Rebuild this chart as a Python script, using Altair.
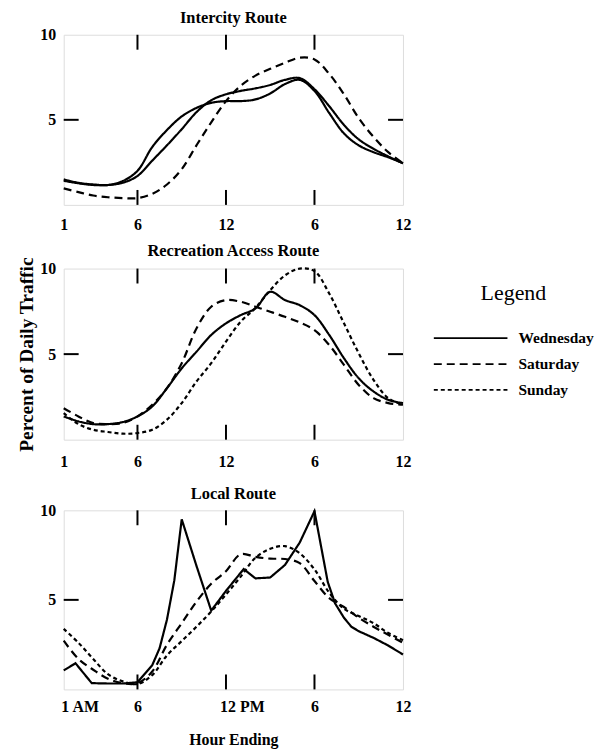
import altair as alt
import pandas as pd

# ---------------- data ----------------
hours = list(range(1, 25))
days = ["Wednesday", "Saturday", "Sunday"]

intercity_wed = [1.5, 1.3, 1.2, 1.17, 1.4, 2.0, 3.4, 4.4, 5.2, 5.7, 6.0, 6.1,
                 6.1, 6.2, 6.55, 7.1, 7.35, 6.7, 5.4, 4.2, 3.5, 3.1, 2.8, 2.45]
intercity_sat = [0.97, 0.75, 0.55, 0.45, 0.4, 0.4, 0.65, 1.2, 2.1, 3.5, 4.85, 6.1,
                 7.0, 7.6, 8.0, 8.35, 8.65, 8.55, 7.7, 6.5, 5.1, 4.0, 3.1, 2.45]
intercity_sun = [1.42, 1.27, 1.17, 1.17, 1.3, 1.7, 2.6, 3.5, 4.45, 5.45, 6.15, 6.5,
                 6.7, 6.85, 7.05, 7.35, 7.45, 6.8, 5.8, 4.7, 3.85, 3.3, 2.85, 2.45]

recreation_wed = [1.36, 1.07, 0.91, 0.91, 1.03, 1.36, 1.94, 3.01, 4.17, 5.14, 6.12, 6.8,
                  7.28, 7.67, 8.64, 8.16, 7.86, 7.28, 6.12, 4.76, 3.59, 2.82, 2.33, 2.14]
recreation_sat = [1.84, 1.36, 0.97, 0.91, 0.97, 1.36, 2.04, 3.01, 4.47, 6.5, 7.77, 8.16,
                  8.06, 7.77, 7.48, 7.18, 6.85, 6.4, 5.53, 4.37, 3.2, 2.43, 2.14, 2.04]
recreation_sun = [1.55, 0.91, 0.58, 0.45, 0.35, 0.39, 0.58, 1.17, 2.14, 3.4, 4.47, 5.73,
                  6.9, 7.7, 8.74, 9.6, 10.0, 9.85, 8.54, 6.8, 5.05, 3.5, 2.43, 2.04]

# local Wednesday is read at the sharp corners as well as on the hour
local_wed_hours = [1, 1.8, 2.9, 4, 5, 6, 7, 7.5, 8, 8.5, 9, 10, 11, 12, 13.2, 14, 15,
                   16, 17, 18, 18.9, 19.4, 20, 20.5, 21, 22, 23, 24]
local_wed = [1.06, 1.46, 0.35, 0.33, 0.33, 0.4, 1.35, 2.3, 3.9, 6.1, 9.5, 6.9, 4.4, 5.5,
             6.72, 6.2, 6.25, 6.95, 8.2, 9.95, 6.0, 4.8, 4.0, 3.5, 3.25, 2.88, 2.45, 1.95]
local_sat = [2.72, 1.7, 1.1, 0.6, 0.35, 0.35, 1.0, 2.5, 3.7, 4.9, 5.9, 6.6,
             7.55, 7.4, 7.3, 7.28, 7.05, 6.05, 5.1, 4.6, 4.0, 3.5, 3.05, 2.6]
local_sun = [3.38, 2.6, 1.7, 0.85, 0.45, 0.3, 0.8, 1.9, 2.7, 3.5, 4.35, 5.3,
             6.3, 7.35, 7.85, 8.0, 7.6, 6.7, 5.4, 4.5, 4.1, 3.7, 3.15, 2.75]

x_tick_values = [1, 6, 12, 18, 24]
x_labels_plain = ["1", "6", "12", "6", "12"]
x_labels_local = ["1 AM", "6", "12 PM", "6", "12"]
y_tick_values = [5, 10]
inner_x_ticks = [6, 12, 18]
inner_y_ticks = [5]

# ---------------- style ----------------
FONT = "Liberation Serif"
W = 341
TICK = 15
SOLID = [1, 0]
LONG = [8, 5]
SHORT = [4, 3]


def long_df(series, series_hours):
    rows = []
    for day, vals, hrs in zip(days, series, series_hours):
        for h, v in zip(hrs, vals):
            rows.append({"hour": h, "pct": v, "day": day})
    return pd.DataFrame(rows)


def label_expr(labels):
    parts = [f"datum.value == {v} ? '{t}'" for v, t in zip(x_tick_values, labels)]
    return " : ".join(parts) + " : ''"


def panel(title, series, labels, height, dash_range, series_hours=None, linear_days=(),
          legend=None, y_title=None, x_title=None, local=False, title_offset=4,
          label_pad=12, x_title_size=16, x_title_pad=19):
    if series_hours is None:
        series_hours = [hours] * 3
    df = long_df(series, series_hours)
    x_axis_kw = dict(values=x_tick_values, labelExpr=label_expr(labels), grid=False,
                     ticks=False, domain=False, labelFont=FONT, labelFontSize=16,
                     labelFontWeight="bold", labelColor="black", labelPadding=label_pad,
                     labelFlush=False, title=x_title, titleFont=FONT,
                     titleFontSize=x_title_size, titleFontWeight="bold",
                     titleColor="black", titlePadding=x_title_pad)
    if local:
        x_axis_kw["labelOffset"] = {"condition": {"test": "datum.value == 1 || datum.value == 12",
                                                  "value": 16}, "value": 0}
    x_axis = alt.Axis(**x_axis_kw)
    y_axis = alt.Axis(values=y_tick_values, grid=False, ticks=False, domain=False,
                      labelFont=FONT, labelFontSize=16, labelFontWeight="bold",
                      labelColor="black", labelPadding=8, labelFlush=False,
                      title=y_title, titleFont=FONT, titleFontSize=19.5,
                      titleFontWeight="bold", titleColor="black", titlePadding=3)
    xs = alt.Scale(domain=[1, 24], nice=False, zero=False)
    ys = alt.Scale(domain=[0, 10], nice=False)
    dash = alt.StrokeDash("day:N", scale=alt.Scale(domain=days, range=dash_range),
                          legend=legend)
    X = alt.X("hour:Q", scale=xs, axis=x_axis)
    Y = alt.Y("pct:Q", scale=ys, axis=y_axis)

    base = alt.Chart(df).encode(x=X, y=Y, strokeDash=dash, detail="day:N")
    smooth = base.transform_filter(
        alt.FieldOneOfPredicate(field="day", oneOf=[d for d in days if d not in linear_days])
    ).mark_line(interpolate="catmull-rom", color="black", strokeWidth=2.2)
    layers = [smooth]
    if linear_days:
        lin = base.transform_filter(
            alt.FieldOneOfPredicate(field="day", oneOf=list(linear_days))
        ).mark_line(interpolate="linear", color="black", strokeWidth=2.2)
        layers.append(lin)

    xt = alt.Chart(pd.DataFrame({"hour": inner_x_ticks}))
    yt = alt.Chart(pd.DataFrame({"pct": inner_y_ticks}))
    rule = dict(color="black", strokeWidth=2)
    layers += [
        xt.mark_rule(**rule).encode(x=X, y=alt.value(0), y2=alt.value(TICK)),
        xt.mark_rule(**rule).encode(x=X, y=alt.value(height), y2=alt.value(height - TICK)),
        yt.mark_rule(**rule).encode(y=Y, x=alt.value(0), x2=alt.value(TICK)),
        yt.mark_rule(**rule).encode(y=Y, x=alt.value(W), x2=alt.value(W - TICK)),
    ]
    return alt.layer(*layers).properties(
        width=W, height=height,
        title=alt.TitleParams(title, font=FONT, fontSize=16.5, fontWeight="bold",
                              color="black", offset=title_offset),
    )


legend = alt.Legend(
    title="Legend", orient="none", legendX=371, legendY=15, padding=0,
    symbolType="stroke", symbolSize=5476, symbolStrokeWidth=1.8,
    symbolStrokeColor="black", clipHeight=24,
    labelFont=FONT, labelFontSize=15.5, labelFontWeight="bold", labelColor="black",
    labelOffset=10, titleFont=FONT, titleFontSize=22, titleFontWeight="normal",
    titleColor="black", titleAnchor="middle", titlePadding=21,
)

p1 = panel("Intercity Route", [intercity_wed, intercity_sat, intercity_sun],
           x_labels_plain, 171, [SOLID, LONG, SOLID], title_offset=0)
p2 = panel("Recreation Access Route", [recreation_wed, recreation_sat, recreation_sun],
           x_labels_plain, 172, [SOLID, LONG, SHORT], legend=legend,
           y_title="Percent of Daily Traffic", title_offset=-3, label_pad=14,
           x_title=" ", x_title_size=6, x_title_pad=0)
p3 = panel("Local Route", [local_wed, local_sat, local_sun],
           x_labels_local, 180, [SOLID, LONG, SHORT],
           series_hours=[local_wed_hours, hours, hours], linear_days=("Wednesday",),
           x_title="Hour Ending", local=True, label_pad=9, title_offset=0,
           x_title_pad=17)

chart = alt.vconcat(p1, p2, p3, spacing=9).resolve_scale(
    strokeDash="independent"
).resolve_legend(strokeDash="independent").properties(
    padding={"left": 8, "top": 0, "right": 0, "bottom": 0}
).configure_view(stroke="black", strokeWidth=2).configure(background="white")

chart.save("out.html", embed_options={"renderer": "svg", "actions": False})
